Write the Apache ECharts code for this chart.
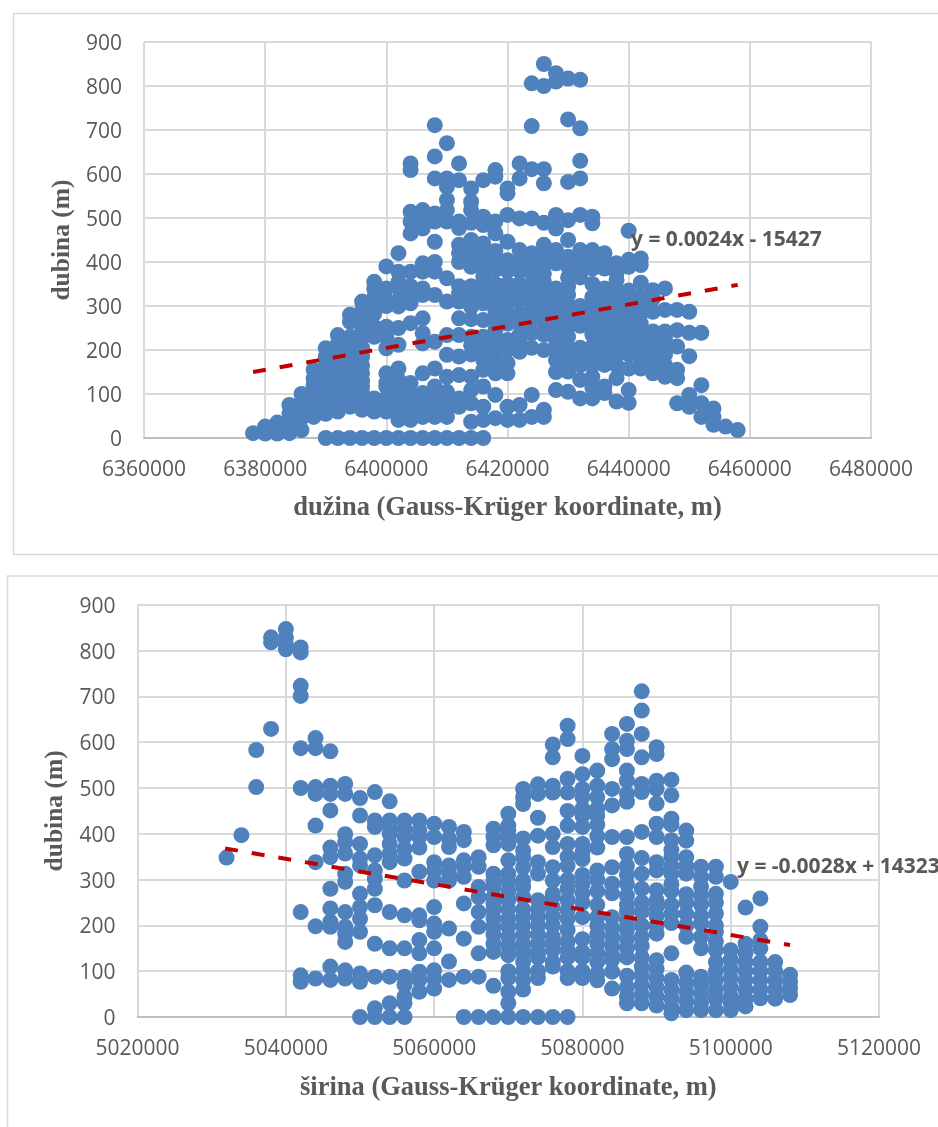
<!DOCTYPE html>
<html><head><meta charset="utf-8">
<style>html,body{margin:0;padding:0;background:#fff}#c{width:938px;height:1127px}</style>
<script src="https://cdn.jsdelivr.net/npm/echarts@6/dist/echarts.min.js"></script>
</head><body><div id="c"></div>
<script>
const lonStart = 6378000, latStart = 5032000, colStep = 2000;
const lonDepths = [
[11],[26,10],[35,22,10],[75,56,37,11],[100,82,64,45,18],[155,135,120,100,82,65,48],
[204,185,165,145,124,100,82,67,55,0],[234,215,195,175,155,132,109,90,75,60,0],
[280,264,230,207,185,165,147,124,100,85,71,0],[310,290,264,245,230,205,185,165,147,130,117,102,85,64,0],
[355,340,320,306,283,253,230,90,71,60,0],[390,340,313,300,253,230,204,147,125,117,90,75,60,0],
[420,378,355,340,313,299,250,212,158,132,105,90,75,60,41,0],
[624,609,514,492,465,378,345,329,306,261,125,98,79,60,41,0],
[518,495,476,397,378,340,325,272,238,215,147,102,79,60,48,0],
[711,640,590,510,492,446,400,378,325,219,158,117,102,85,71,48,0],
[670,590,571,541,518,492,363,310,234,189,139,105,82,65,48,0],
[624,586,492,477,439,420,400,345,329,310,272,234,185,143,90,71,0],
[567,537,518,489,450,427,405,389,345,329,310,298,270,230,211,190,139,109,79,37,0],
[586,503,484,442,420,404,385,367,345,325,306,268,230,208,190,177,155,117,71,41,0],
[609,594,492,465,425,404,382,350,330,312,290,270,245,222,192,165,147,98,45],
[567,556,507,446,404,380,350,325,306,283,260,223,200,170,147,71,41],
[624,590,499,427,404,380,351,330,313,283,260,235,223,196,75,41],
[806,709,611,499,420,400,375,351,330,313,290,268,238,205,98,48],
[850,800,611,579,489,439,412,395,374,355,336,315,298,280,260,235,200,64,48],
[829,810,507,476,427,405,397,340,320,298,275,250,223,200,177,150,109],
[817,724,582,495,450,412,390,365,344,325,300,280,255,230,205,185,165,151,105],
[814,704,630,590,507,427,405,385,365,300,280,255,205,185,165,132,90],
[503,488,427,405,385,350,320,300,280,255,235,208,192,165,139,115,90],
[420,405,385,340,320,298,275,255,235,215,190,166,117,102],
[397,375,359,336,315,298,275,255,235,215,190,165,136,83],
[471,405,389,335,317,300,283,265,245,225,215,190,158,109,80],
[408,393,353,321,300,283,260,245,223,200,177,158],
[336,317,287,242,225,211,195,177,147],
[340,291,242,225,211,190,166,139],
[291,245,208,155,136,79],
[287,239,186,98,71],
[239,120,79,48],
[67,48,30],[26],[18]
];
const latDepths = [
[348],[397],[583,502],[629,829,818],[847,829,814,803],
[807,796,723,701,587,500,229,91,77],
[609,587,502,487,418,338,198,84],
[580,505,487,451,370,349,280,237,208,197,110,81],
[509,487,399,382,357,313,295,229,197,182,164,102,84],
[478,440,378,346,331,269,240,215,186,95,77,0],
[491,429,415,353,320,302,280,244,160,88,19,0],
[471,429,415,400,378,357,338,229,150,88,30,0],
[429,411,393,367,346,298,222,150,88,70,44,30,0],
[429,407,393,370,317,222,211,168,139,99,81,55],
[422,393,338,320,298,240,204,186,150,102,84,62],
[415,389,371,331,313,298,193,121,81],
[404,386,342,328,306,248,171,88,0],
[349,328,284,262,229,197,139,88,0],
[411,393,375,313,298,284,262,248,233,215,197,180,160,142,68,0],
[444,418,407,393,378,342,313,295,275,255,235,215,197,175,155,135,100,85,55,30,0],
[498,480,465,390,364,349,327,298,284,262,235,218,200,180,160,146,139,120,100,80,60,0],
[508,487,435,396,338,313,255,235,218,200,180,160,140,130,100,85,0],
[595,567,505,490,400,371,327,298,269,262,240,220,200,175,160,146,120,110,0],
[636,607,520,490,450,418,378,350,330,300,280,255,233,215,190,165,146,130,100,85,0],
[570,530,498,480,455,440,415,378,360,345,310,290,270,250,218,170,142,130,100,85],
[538,505,480,455,440,420,395,370,320,300,275,245,218,200,180,160,140,120,95,80],
[618,585,563,498,462,393,327,291,270,218,195,175,155,135,125,99,62],
[640,603,585,538,516,487,470,393,356,330,310,290,265,245,230,210,190,170,150,130,90,65,45,30],
[711,669,618,567,509,491,404,347,313,280,250,230,200,175,155,130,110,90,70,50,30],
[589,574,516,498,466,422,393,338,320,277,255,240,220,200,182,124,105,85,65,45,25],
[518,484,433,420,386,365,349,330,313,290,275,245,225,205,139,81,60,40,20,8],
[407,385,349,330,313,268,250,225,200,175,97,75,55,35,15],
[328,306,285,265,245,220,204,175,150,88,70,50,30,15],
[328,306,269,250,226,200,186,165,146,120,100,80,60,40,15],
[295,146,125,105,85,65,45,30,15],
[239,160,140,120,100,80,60,40,23],
[259,197,168,150,120,100,80,60,41],
[120,100,80,60,40],
[92,77,62,48]
];
const lonTrendX = [6378000, 6458000], lonTrendY = [150, 348];
const latTrendX = [5031800, 5108000], latTrendY = [368, 157];
const lonEq = 'y = 0.0024x - 15427', latEq = 'y = -0.0028x + 14323';
const yName = 'dubina (m)';
const lonName = 'dužina (Gauss-Krüger koordinate, m)';
const latName = 'širina (Gauss-Krüger koordinate, m)';

const pts = (cols, start) => cols.flatMap((c, i) => c.map(d => [start + i * colStep, d]));
const grey = '#595959', gridC = '#D9D9D9';
const xAxis = (min, max, name, idx) => ({
  type:'value', gridIndex:idx, min, max, interval:20000, name, nameLocation:'middle', nameGap:idx?58:57,
  nameTextStyle:{fontFamily:'Liberation Serif',fontWeight:'bold',fontSize:26.5,color:grey},
  axisLabel:{fontFamily:'Open Sans',fontSize:21,color:grey,margin:22,showMinLabel:true,showMaxLabel:true,hideOverlap:false,formatter:v=>String(v)},
  axisLine:{show:true,lineStyle:{color:'#BFBFBF',width:2}}, axisTick:{show:false},
  splitLine:{show:true,lineStyle:{color:gridC,width:2}}
});
const yAxis = (idx) => ({
  type:'value', gridIndex:idx, min:0, max:900, interval:100, name:yName, nameLocation:'middle', nameGap:idx?68:66,
  nameTextStyle:{fontFamily:'Liberation Serif',fontWeight:'bold',fontSize:25.5,color:grey},
  axisLabel:{margin:22,formatter:v=>'{t|'+v+'}',
    rich:{t:{fontFamily:'Open Sans',fontSize:21,color:grey,padding:[4,0,0,0]}}},
  axisLine:{show:false}, axisTick:{show:false},
  splitLine:{show:true,lineStyle:{color:gridC,width:2}}
});
const scatter = (data, idx) => ({type:'scatter',xAxisIndex:idx,yAxisIndex:idx,data,symbolSize:16,
  itemStyle:{color:'#4F81BD',opacity:1},silent:true,z:2});
const trend = (xs, ys, idx) => ({type:'line',xAxisIndex:idx,yAxisIndex:idx,data:xs.map((x,i)=>[x,ys[i]]),
  symbol:'none',silent:true,z:3,lineStyle:{color:'#C00000',width:4,type:[13,14]}});
const eqStyle = {fontFamily:'Open Sans',fontWeight:'bold',fontSize:21,color:grey};

const chart = echarts.init(document.getElementById('c'),null,{renderer:'canvas'});
chart.setOption({
  animation:false, backgroundColor:'#fff',
  title:[
    {text:lonEq,left:631,top:230,padding:0,textStyle:eqStyle,z:5},
    {text:latEq,left:737,top:857,padding:0,textStyle:eqStyle,z:5}
  ],
  graphic:[
    {type:'rect',shape:{x:13.5,y:13.5,width:960,height:541},style:{fill:'none',stroke:gridC,lineWidth:1.5},silent:true,z:-1},
    {type:'rect',shape:{x:7.5,y:576,width:960,height:600},style:{fill:'none',stroke:gridC,lineWidth:1.5},silent:true,z:-1}
  ],
  grid:[
    {left:144,top:42,width:727,height:396},
    {left:137.6,top:604.8,width:741.4,height:412.2}
  ],
  xAxis:[xAxis(6360000,6480000,lonName,0),xAxis(5020000,5120000,latName,1)],
  yAxis:[yAxis(0),yAxis(1)],
  series:[
    scatter(pts(lonDepths,lonStart),0),
    trend(lonTrendX,lonTrendY,0),
    scatter(pts(latDepths,latStart),1),
    trend(latTrendX,latTrendY,1)
  ]
});
</script></body></html>
